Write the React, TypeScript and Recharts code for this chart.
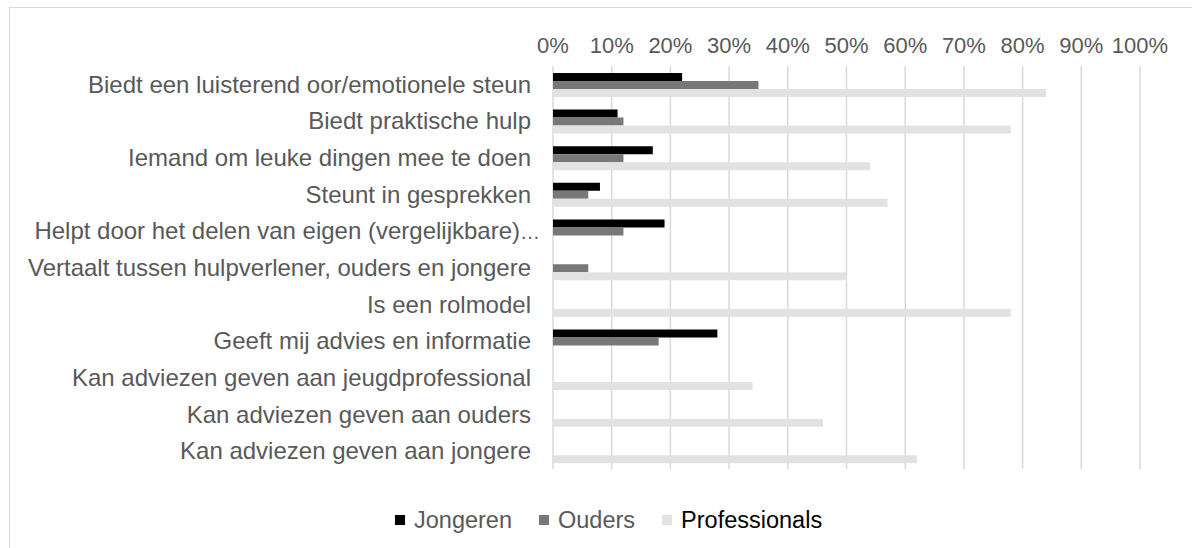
import { BarChart, Bar, XAxis, YAxis, CartesianGrid } from 'recharts'

const categories = [
  'Biedt een luisterend oor/emotionele steun',
  'Biedt praktische hulp',
  'Iemand om leuke dingen mee te doen',
  'Steunt in gesprekken',
  'Helpt door het delen van eigen (vergelijkbare)…',
  'Vertaalt tussen hulpverlener, ouders en jongere',
  'Is een rolmodel',
  'Geeft mij advies en informatie',
  'Kan adviezen geven aan jeugdprofessional',
  'Kan adviezen geven aan ouders',
  'Kan adviezen geven aan jongere',
]

const jongeren = [22, 11, 17, 8, 19, 0, 0, 28, 0, 0, 0]
const ouders = [35, 12, 12, 6, 12, 6, 0, 18, 0, 0, 0]
const professionals = [84, 78, 54, 57, 0, 50, 78, 0, 34, 46, 62]

const xTicks = [0, 10, 20, 30, 40, 50, 60, 70, 80, 90, 100]

const series = [
  { key: 'jongeren', label: 'Jongeren', color: '#000000', text: '#595959' },
  { key: 'ouders', label: 'Ouders', color: '#787878', text: '#595959' },
  { key: 'professionals', label: 'Professionals', color: '#e2e2e2', text: '#000000' },
]

const data = categories.map((name, i) => ({
  name,
  jongeren: jongeren[i],
  ouders: ouders[i],
  professionals: professionals[i],
}))

const FONT = '"Liberation Sans", Arial, sans-serif'

// truncated label runs a bit past the others, like in the original
const CategoryTick = ({ x, y, payload }: any) => {
  const label: string = payload.value
  const clipped = label.endsWith('…')
  return (
    <text
      x={clipped ? x + 9 : x}
      y={y}
      dy="0.355em"
      textAnchor="end"
      fontSize={24}
      fill="#595959"
      fontFamily={FONT}
    >
      {clipped ? (
        <>
          {label.slice(0, -1)}
          <tspan fontSize={20}>…</tspan>
        </>
      ) : (
        label
      )}
    </text>
  )
}

export default function App() {
  return (
    <div
      style={{
        position: 'absolute',
        left: 0,
        top: 0,
        width: 1192,
        height: 548,
        overflow: 'hidden',
        background: '#fff',
        fontFamily: FONT,
      }}
    >
      {/* frame */}
      <div
        style={{
          position: 'absolute',
          left: 9,
          top: 7,
          width: 1200,
          height: 560,
          border: '1px solid #d9d9d9',
        }}
      />
      <div style={{ position: 'absolute', left: 0, top: 0 }}>
        <BarChart
          width={1192}
          height={548}
          data={data}
          layout="vertical"
          margin={{ top: 36, right: 52, bottom: 79, left: 0 }}
          barCategoryGap="19%"
          barGap={0}
        >
          <CartesianGrid horizontal={false} stroke="#d9d9d9" strokeWidth={1.5} />
          <XAxis
            type="number"
            orientation="top"
            domain={[0, 100]}
            ticks={xTicks}
            tickFormatter={(v) => `${v}%`}
            axisLine={false}
            tickLine={false}
            tickSize={0}
            tickMargin={13}
            height={30}
            tick={{ fontSize: 22, fill: '#595959', fontFamily: FONT }}
          />
          <YAxis
            type="category"
            dataKey="name"
            width={553}
            axisLine={false}
            tickLine={false}
            tickSize={0}
            tickMargin={22}
            interval={0}
            tick={<CategoryTick />}
          />
          {series.map((s) => (
            <Bar key={s.key} dataKey={s.key} fill={s.color} isAnimationActive={false} />
          ))}
        </BarChart>
      </div>

      {/* legend */}
      <div
        style={{
          position: 'absolute',
          left: 395,
          top: 506,
          display: 'flex',
          alignItems: 'center',
          gap: 27,
          fontSize: 23.5,
          lineHeight: '28px',
        }}
      >
        {series.map((s) => (
          <div key={s.key} style={{ display: 'flex', alignItems: 'center' }}>
            <span
              style={{
                display: 'inline-block',
                width: 10,
                height: 10,
                background: s.color,
                marginRight: 9,
              }}
            />
            <span style={{ color: s.text }}>{s.label}</span>
          </div>
        ))}
      </div>
    </div>
  )
}
